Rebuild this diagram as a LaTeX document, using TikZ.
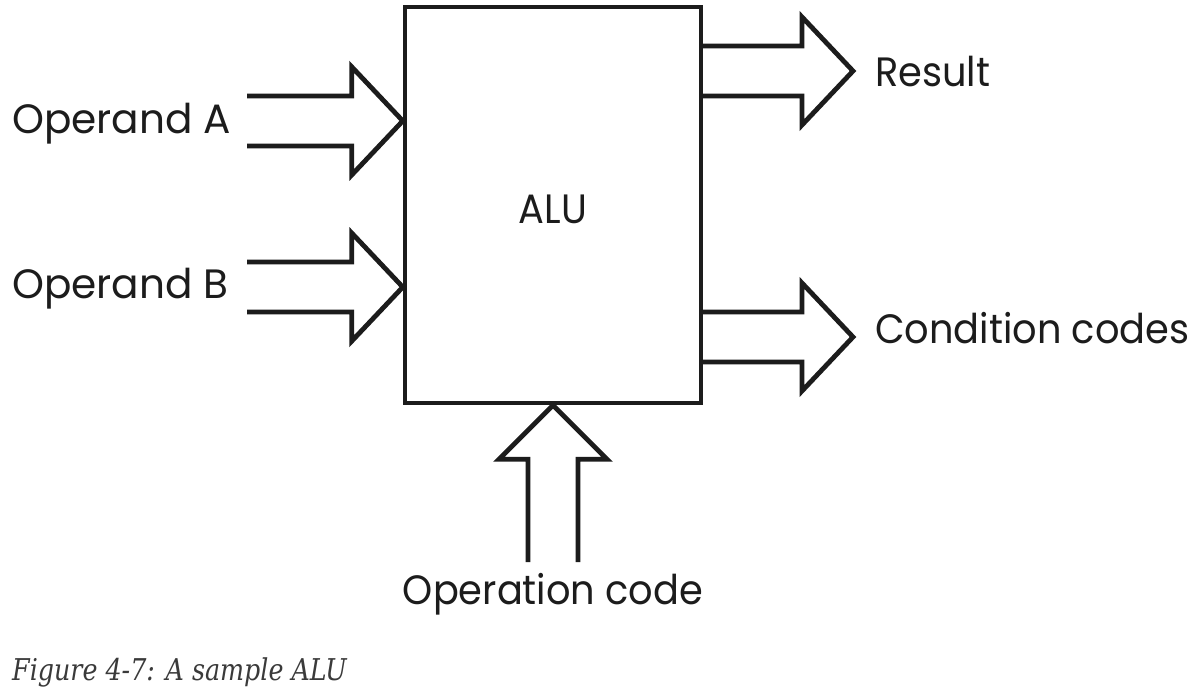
\documentclass[tikz,border=0pt]{standalone}
\usepackage{fontspec}
\usetikzlibrary{calc}
\newfontfamily\lblfont[FakeStretch=0.935]{Poppins}
\newfontfamily\oplblfont[FakeStretch=0.99]{Poppins}
\newfontfamily\capfont[FakeStretch=0.845]{DejaVu Serif}
\definecolor{ink}{HTML}{1C1C1C}
\definecolor{capink}{HTML}{3A3A3A}
\tikzset{
  fat/.style={draw=ink, line width=4.8pt, line join=miter, miter limit=10},
  boxst/.style={draw=ink, line width=4.4pt, minimum width=296pt, minimum height=396pt, inner sep=0pt},
  lbl/.style={text=ink, font=\lblfont\fontsize{41}{48}\selectfont, inner sep=0pt},
  oplbl/.style={text=ink, font=\oplblfont\fontsize{41}{48}\selectfont, inner sep=0pt},
  caption/.style={text=capink, font=\capfont\itshape\fontsize{30}{36}\selectfont, inner sep=0pt}
}
\newcommand\rightfat[2]{%
  \draw[fat] let \p1=(#1), \p2=(#2) in
    (\x1,\y2+25pt) -- (\x2-51pt,\y2+25pt) -- (\x2-51pt,\y2+54pt) -- (\x2,\y2)
    -- (\x2-51pt,\y2-54pt) -- (\x2-51pt,\y2-25pt) -- (\x1,\y2-25pt);}
\newcommand\upfat[2]{%
  \draw[fat] let \p1=(#1), \p2=(#2) in
    (\x2-25pt,\y1) -- (\x2-25pt,\y2-54pt) -- (\x2-54pt,\y2-54pt) -- (\x2,\y2)
    -- (\x2+54pt,\y2-54pt) -- (\x2+25pt,\y2-54pt) -- (\x2+25pt,\y1);}
\begin{document}
\begin{tikzpicture}[x=1pt,y=-1pt]
\useasboundingbox[fill=white] (0,0) rectangle (1194,696);
\node[boxst] (alu) at (553,205) {};
\node[lbl, anchor=base] (alutxt) at (553,223) {ALU};
% input A
\coordinate (tailA) at (247,121);
\coordinate (tipA) at ($(alu.north west)!0.29!(alu.south west)$);
\rightfat{tailA}{tipA}
% input B
\coordinate (tailB) at (247,287);
\coordinate (tipB) at ($(alu.north west)!0.705!(alu.south west)$);
\rightfat{tailB}{tipB}
% result
\coordinate (tailR) at ($(alu.north east)!0.165!(alu.south east)$);
\coordinate (tipR) at (853,71);
\rightfat{tailR}{tipR}
% condition codes
\coordinate (tailC) at ($(alu.north east)!0.83!(alu.south east)$);
\coordinate (tipC) at (853,337);
\rightfat{tailC}{tipC}
% operation code
\coordinate (tailO) at (553,562);
\coordinate (tipO) at (alu.south);
\upfat{tailO}{tipO}
% labels
\node[oplbl, anchor=base west] (la) at (12,133) {Operand A};
\node[oplbl, anchor=base west] (lb) at (12,298) {Operand B};
\node[lbl, anchor=base west] (lr) at (875,86) {Result};
\node[lbl, anchor=base west] (lc) at (875,343) {Condition codes};
\node[lbl, anchor=base] (lo) at (553,604) {Operation code};
\node[caption, anchor=base west] (cap) at (12,680) {Figure 4-7: A sample ALU};
\end{tikzpicture}
\end{document}
